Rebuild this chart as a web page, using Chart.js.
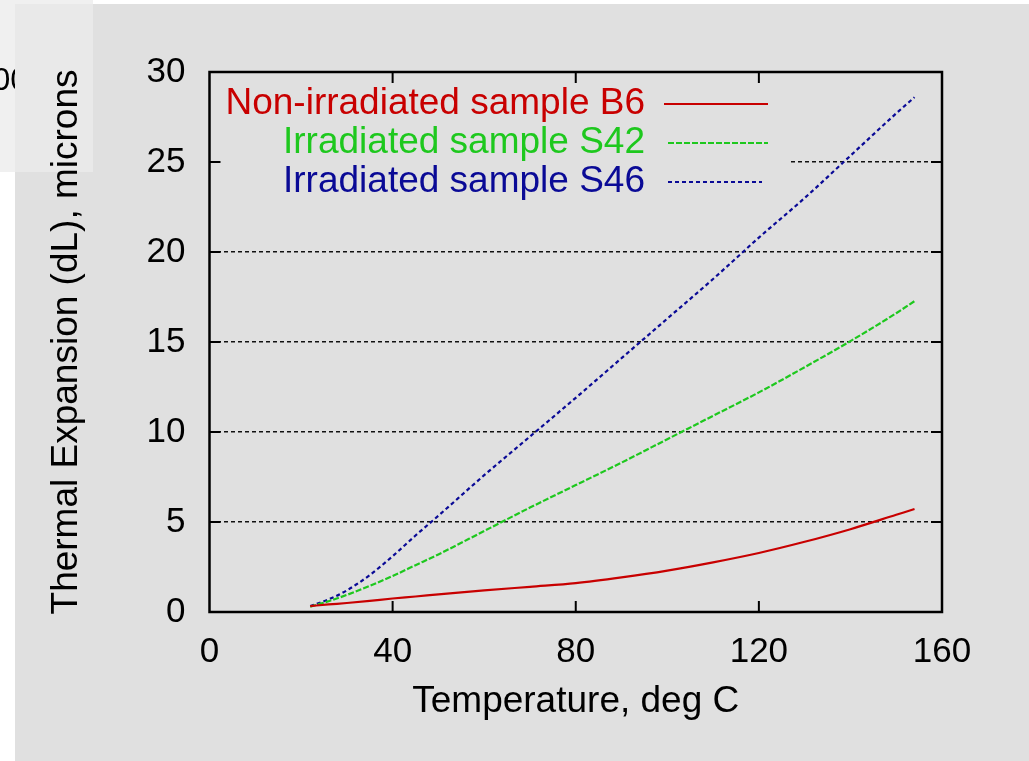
<!DOCTYPE html>
<html>
<head>
<meta charset="utf-8">
<script src="https://cdn.jsdelivr.net/npm/chart.js@4/dist/chart.umd.min.js"></script>
<style>
html,body{margin:0;padding:0;background:#ffffff;}
canvas{display:block;}
</style>
</head>
<body>
<canvas id="c" width="1029" height="761"></canvas>
<script>
// ---- data ----
const temperature = [22, 26, 30, 35, 40, 45, 50, 60, 70, 80, 90, 100, 110, 120, 130, 140, 150, 154];
const dlB6  = [0.33, 0.42, 0.50, 0.62, 0.75, 0.86, 0.98, 1.20, 1.40, 1.60, 1.92, 2.30, 2.76, 3.28, 3.90, 4.60, 5.40, 5.72];
const dlS42 = [0.30, 0.60, 0.95, 1.45, 2.00, 2.60, 3.20, 4.50, 5.80, 7.05, 8.30, 9.60, 10.90, 12.20, 13.60, 15.05, 16.60, 17.27];
const dlS46 = [0.33, 0.70, 1.20, 2.05, 3.10, 4.25, 5.35, 7.60, 9.75, 11.90, 14.10, 16.30, 18.50, 20.80, 23.00, 25.35, 27.70, 28.60];
const seriesNames = ['Non-irradiated sample B6', 'Irradiated sample S42', 'Irradiated sample S46'];
const xTicks = [0, 40, 80, 120, 160];
const yTicks = [0, 5, 10, 15, 20, 25, 30];
const xTitle = 'Temperature, deg C';
const yTitle = 'Thermal Expansion (dL), microns';
const cornerText = '00';

const FONT = '"Liberation Sans", Arial, Helvetica, sans-serif';
const colors = ['#c80000', '#1ec81e', '#0a0a96'];
const dashes = [[], [6, 2], [4, 3]];

function pts(ys) { return temperature.map((t, i) => ({x: t, y: ys[i]})); }

const bgPlugin = {
  id: 'bg',
  beforeDraw(chart) {
    const ctx = chart.ctx;
    ctx.save();
    ctx.fillStyle = '#ffffff';
    ctx.fillRect(0, 0, chart.width, chart.height);
    ctx.fillStyle = '#f0f0f0';
    ctx.fillRect(0, 0, 93, 172);
    ctx.fillStyle = '#e0e0e0';
    ctx.fillRect(15, 4, chart.width - 15, chart.height - 4);
    ctx.fillStyle = '#e9e9e9';
    ctx.fillRect(15, 4, 78, 168);
    // partly hidden text at the corner
    ctx.beginPath();
    ctx.rect(0, 0, 15, 172);
    ctx.clip();
    ctx.fillStyle = '#000';
    ctx.font = '32px ' + FONT;
    ctx.textAlign = 'left';
    ctx.textBaseline = 'alphabetic';
    ctx.fillText(cornerText, -7.5, 90);
    ctx.restore();
  }
};

const keyPlugin = {
  id: 'key',
  beforeDatasetsDraw(chart) {
    const ctx = chart.ctx;
    const a = chart.chartArea;
    ctx.save();
    ctx.fillStyle = '#e0e0e0';
    ctx.fillRect(a.left + 2, a.top + 2, 786 - a.left, 200 - a.top);
    const rows = [103, 142, 181];
    ctx.font = '37px ' + FONT;
    ctx.textAlign = 'right';
    ctx.textBaseline = 'middle';
    seriesNames.forEach((name, i) => {
      ctx.fillStyle = colors[i];
      ctx.fillText(name, 645, rows[i] + 1);
      ctx.strokeStyle = colors[i];
      ctx.lineWidth = 2;
      ctx.setLineDash(dashes[i]);
      ctx.beginPath();
      ctx.moveTo(i === 0 ? 664 : 668, rows[i] + 1);
      ctx.lineTo(i === 2 ? 762 : 768, rows[i] + 1);
      ctx.stroke();
    });
    ctx.restore();
  },
  afterDatasetsDraw(chart) {
    const ctx = chart.ctx;
    const a = chart.chartArea;
    const xs = chart.scales.x, ys = chart.scales.y;
    ctx.save();
    ctx.strokeStyle = '#000';
    ctx.lineWidth = 2.5;
    ctx.setLineDash([]);
    ctx.strokeRect(a.left, a.top, a.right - a.left, a.bottom - a.top);
    ctx.lineWidth = 2;
    const L = 11;
    xTicks.slice(1, -1).forEach(v => {
      const px = xs.getPixelForValue(v);
      ctx.beginPath();
      ctx.moveTo(px, a.bottom); ctx.lineTo(px, a.bottom - L);
      ctx.moveTo(px, a.top); ctx.lineTo(px, a.top + L);
      ctx.stroke();
    });
    yTicks.slice(1, -1).forEach(v => {
      const py = ys.getPixelForValue(v);
      ctx.beginPath();
      ctx.moveTo(a.left, py); ctx.lineTo(a.left + L, py);
      ctx.moveTo(a.right, py); ctx.lineTo(a.right - L, py);
      ctx.stroke();
    });
    ctx.restore();
  }
};

new Chart(document.getElementById('c'), {
  type: 'scatter',
  data: {
    datasets: [dlB6, dlS42, dlS46].map((ys, i) => ({
      label: seriesNames[i],
      data: pts(ys),
      showLine: true,
      borderColor: colors[i],
      backgroundColor: colors[i],
      borderWidth: 2.2,
      borderDash: dashes[i],
      pointRadius: 0,
      cubicInterpolationMode: 'monotone',
      fill: false
    }))
  },
  options: {
    responsive: false,
    devicePixelRatio: 1,
    animation: false,
    layout: {padding: {left: 0, right: 87, top: 72, bottom: 0}},
    plugins: {legend: {display: false}, tooltip: {enabled: false}},
    scales: {
      x: {
        type: 'linear', min: 0, max: 160,
        afterBuildTicks: s => { s.ticks = xTicks.map(v => ({value: v})); },
        afterFit: s => { s.height = 149; },
        grid: {display: false},
        border: {display: false},
        ticks: {color: '#000', font: {family: FONT, size: 35}, padding: 11, maxRotation: 0},
        title: {display: true, text: xTitle, color: '#000', font: {family: FONT, size: 37}, padding: {top: 0, bottom: 37}}
      },
      y: {
        type: 'linear', min: 0, max: 30,
        afterBuildTicks: s => { s.ticks = yTicks.map(v => ({value: v})); },
        afterFit: s => { s.width = 209.5; },
        grid: {color: '#111', lineWidth: 1.5, drawTicks: false},
        border: {display: false, dash: [4, 3]},
        ticks: {color: '#000', font: {family: FONT, size: 35}, padding: 24},
        title: {display: true, text: yTitle, color: '#000', font: {family: FONT, size: 37}, padding: {top: 45, bottom: 0}}
      }
    }
  },
  plugins: [bgPlugin, keyPlugin]
});
</script>
</body>
</html>
